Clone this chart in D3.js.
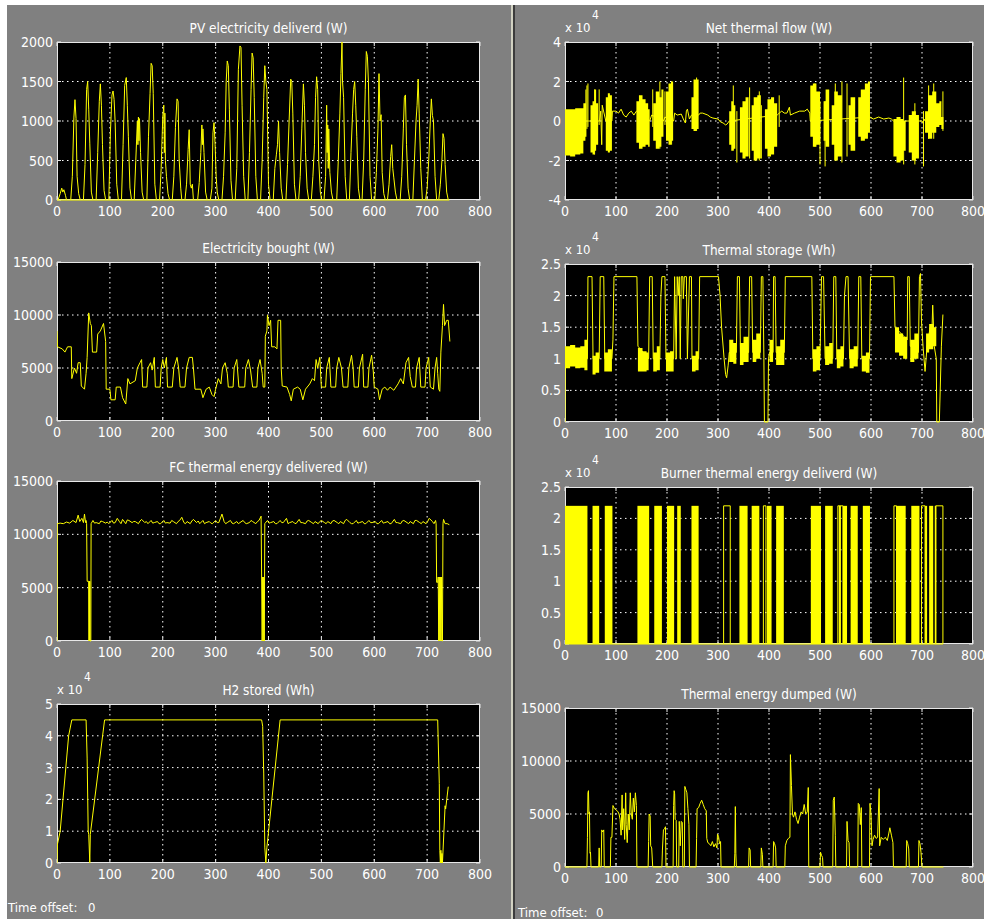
<!DOCTYPE html>
<html><head><meta charset="utf-8">
<script src="https://cdn.jsdelivr.net/npm/d3@7"></script>
<style>
body{margin:0;background:#fff}
text{font-family:'Liberation Sans Narrow','DejaVu Sans Condensed','Arial Narrow',sans-serif;fill:#fff}
</style></head><body><svg id="chart" width="984" height="919"></svg>
<script>
// ---- data (time in hours) ----
var xTicks = [0,100,200,300,400,500,600,700,800];

// PV electricity deliverd (W), one small list per day
var pvDays = [
  [[2,0],[6,80],[9,150],[11,100],[13,130],[16,60],[18,0]],
  [[26,0],[29,300],[32,1050],[34,1270],[36,1030],[38,300],[41,80],[44,0]],
  [[50,0],[53,450],[56,1400],[58,1500],[60,1150],[62,720],[65,100],[68,0]],
  [[74,0],[77,600],[80,1250],[82,1470],[84,1200],[86,700],[89,120],[92,0]],
  [[98,0],[101,850],[104,1330],[106,1380],[108,1270],[110,980],[113,200],[116,0]],
  [[122,0],[125,700],[128,1450],[131,1550],[133,1200],[135,800],[138,150],[141,0]],
  [[146,0],[149,500],[152,1000],[153,700],[154,1050],[155,750],[156,1030],[158,600],[161,100],[164,0]],
  [[170,0],[173,800],[176,1350],[178,1730],[180,1700],[182,1350],[185,200],[188,0]],
  [[194,0],[197,400],[200,1050],[202,1200],[203,600],[204,1100],[205,500],[207,300],[210,80],[213,0]],
  [[218,0],[221,300],[224,920],[227,1280],[229,1250],[231,520],[234,150],[236,0]],
  [[242,0],[245,200],[248,640],[250,890],[252,200],[254,150],[256,200],[258,0]],
  [[266,0],[269,220],[272,600],[274,950],[275,700],[276,900],[278,600],[281,100],[284,0]],
  [[290,0],[293,150],[295,850],[297,980],[299,700],[301,300],[303,100],[306,0]],
  [[312,0],[315,300],[318,850],[320,1500],[322,1760],[324,1700],[326,1150],[329,250],[332,0]],
  [[337,0],[340,400],[343,1650],[346,1950],[348,1930],[350,1200],[353,300],[356,0]],
  [[361,0],[364,600],[367,1400],[369,1860],[371,1800],[373,1300],[376,300],[379,0]],
  [[385,0],[388,500],[391,1300],[393,1700],[395,1500],[397,1400],[400,200],[403,0]],
  [[409,0],[412,400],[415,580],[417,700],[419,1000],[421,600],[424,150],[427,0]],
  [[433,0],[436,450],[439,1000],[442,1530],[444,1500],[446,1100],[449,200],[452,0]],
  [[457,0],[460,300],[463,900],[466,1470],[468,1200],[470,600],[473,150],[476,0]],
  [[481,0],[484,300],[487,700],[489,1300],[491,1560],[493,1400],[495,500],[498,100],[501,0]],
  [[505,0],[508,300],[510,1200],[511,600],[512,950],[513,400],[514,900],[516,350],[519,100],[522,0]],
  [[529,0],[532,500],[535,1100],[537,1600],[539,2000],[540,1500],[542,1300],[545,300],[548,0]],
  [[553,0],[556,600],[559,1100],[561,1400],[563,1500],[565,1200],[567,800],[570,150],[573,0]],
  [[577,0],[580,500],[583,1400],[585,1880],[587,1820],[589,1500],[592,300],[595,0]],
  [[601,0],[604,350],[607,900],[609,1600],[611,1000],[613,1080],[615,350],[618,80],[621,0]],
  [[625,0],[628,200],[631,550],[633,700],[635,400],[637,280],[640,100],[643,0]],
  [[649,0],[652,300],[655,900],[657,1300],[659,1330],[661,700],[664,150],[667,0]],
  [[673,0],[676,500],[679,1000],[681,1200],[683,1530],[685,1100],[688,400],[691,0]],
  [[697,0],[700,150],[703,500],[706,1000],[708,1280],[710,1070],[712,1000],[715,300],[718,0]],
  [[722,0],[725,200],[728,500],[730,840],[732,780],[734,450],[737,100],[740,0]]
];
var pvTicks = [0,500,1000,1500,2000];

// Electricity bought (W)
var elecBought = [[0,8500],[1,7000],[10,6800],[15,6500],[20,7000],[27,7000],[28,4000],[33,5000],[37,4500],[40,5500],
  [44,5500],[46,3300],[52,3000],[55,4500],[57,6000],[60,10200],[63,9200],[65,9000],[67,6500],[75,6500],[77,8200],
  [82,8500],[88,9200],[92,7500],[93,3000],[100,3000],[102,2000],[110,2000],[112,3200],[120,3200],[124,2200],
  [130,1600],[134,4000],[138,3500],[148,3800],[152,5000],[157,5500],[160,5800],[162,3200],[170,3200],[172,5000],
  [177,5500],[180,4800],[184,6000],[186,3200],[195,3200],[197,5000],[200,5800],[203,5000],[207,6000],[209,3200],
  [218,3200],[221,5000],[227,6000],[230,5000],[233,3200],[242,3200],[245,5000],[250,6000],[256,6000],[258,5000],
  [261,3000],[272,3000],[276,2200],[282,3000],[288,3200],[293,2500],[297,2300],[300,3000],[305,4000],[310,3500],
  [313,5000],[318,5500],[322,4500],[324,3200],[333,3200],[335,5000],[340,5800],[344,3200],[355,3200],[357,5000],
  [362,5800],[366,4800],[370,3200],[378,3200],[380,5000],[384,5800],[388,4500],[390,3200],[393,3200],[394,8000],
  [397,8500],[398,10000],[401,9000],[404,9500],[406,7000],[412,7000],[416,6800],[418,9500],[423,9500],[424,5000],
  [426,3300],[435,3200],[440,2500],[443,1900],[447,3000],[455,3200],[460,3000],[465,2000],[470,3000],[478,3500],
  [483,4000],[487,3800],[490,5800],[493,5000],[497,6000],[500,3200],[508,3200],[510,5000],[515,6000],[518,3200],
  [527,3200],[529,5000],[533,6000],[538,5000],[541,3200],[550,3200],[552,5000],[557,6200],[560,5000],[562,3200],
  [570,3200],[572,5000],[578,6300],[580,3200],[588,3200],[590,5000],[595,6200],[598,4800],[600,3200],[607,3000],
  [610,2000],[615,3000],[620,3200],[625,2900],[630,3200],[637,2900],[645,3500],[650,4000],[655,3500],[660,5500],
  [665,6000],[668,4200],[672,3200],[678,3200],[680,5000],[685,6000],[688,3200],[696,3200],[698,5000],[703,6000],
  [706,3200],[712,3000],[715,5000],[718,6000],[720,4500],[722,3000],[724,2800],[726,6500],[729,9000],[731,11000],
  [733,9000],[737,9500],[740,9500],[743,7500]];
var wTicks = [0,5000,10000,15000];

// FC thermal energy delivered (W)
var fcThermal = [[0,0],[0.5,11000],[6,11050],[12,11000],[18,11150],[24,11050],[30,11300],[36,11100],[40,11800],
  [43,11200],[47,11500],[50,11100],[52,11900],[54,11100],[55,11300],[56,11000],[57,5600],[60,5600],[60.5,0],
  [61,5600],[61.5,0],[62,5600],[62.5,0],[64,0],[64.5,11000],[68,11300],[71,11050],[74,11100],[80,11000],[83,11250],
  [86,11200],[92,11050],[95,11150],[98,11000],[104,11300],[107,11050],[110,11100],[114,11500],[118,11200],
  [121,11000],[124,11400],[130,11000],[133,11350],[136,11300],[142,11100],[145,11200],[148,11200],[154,11000],
  [157,11250],[160,11400],[166,11100],[169,11200],[172,11000],[178,11300],[181,11050],[184,11100],[190,11200],
  [193,11000],[196,11000],[202,11300],[205,11050],[208,11100],[214,11050],[217,11300],[220,11200],[226,11000],
  [229,11200],[232,11300],[236,11600],[240,11100],[243,11000],[246,11200],[252,11000],[255,11250],[258,11400],
  [264,11100],[267,11250],[270,11000],[276,11300],[279,11000],[282,11100],[288,11200],[291,11050],[294,11000],
  [300,11300],[303,11100],[306,11100],[312,11900],[316,11200],[319,11000],[322,11100],[328,11300],[331,11050],
  [334,11000],[340,11200],[343,11000],[346,11100],[352,11300],[355,11100],[358,11000],[364,11100],[367,11300],
  [370,11200],[376,11000],[379,11200],[382,11300],[386,11700],[387,6000],[388,0],[389,6000],[390,0],
  [391,6000],[392,0],[393,11000],[398,11300],[401,11050],[404,11100],[410,11200],[413,11000],[416,11000],
  [422,11300],[425,11100],[428,11100],[434,11500],[437,11000],[440,11100],[446,11200],[449,11050],[452,11000],
  [458,11400],[461,11100],[464,11100],[470,11000],[473,11250],[476,11300],[482,11100],[485,11000],[488,11200],
  [494,11000],[497,11200],[500,11300],[506,11100],[509,11000],[512,11200],[518,11000],[521,11250],[524,11300],
  [530,11100],[533,11000],[536,11200],[542,11000],[545,11300],[548,11400],[554,11100],[557,11000],[560,11000],
  [566,11300],[569,11050],[572,11100],[578,11200],[581,11000],[584,11000],[590,11300],[593,11100],[596,11100],
  [602,11200],[605,11000],[608,11000],[614,11300],[617,11050],[620,11100],[626,11200],[629,11000],[632,11000],
  [638,11400],[641,11100],[644,11100],[650,11000],[653,11250],[656,11300],[662,11100],[665,11000],[668,11200],
  [674,11000],[677,11300],[680,11300],[686,11100],[689,11000],[692,11200],[698,11000],[701,11200],
  [704,11500],[710,11200],[713,11000],[716,11300],[717,11000],[718,5500],[720,5500],[721,6000],[722,0],[723,6000],[724,0],
  [725,6000],[726,0],[727,6000],[728,0],[729,0],[730,11000],[731,11400],[734,11000],[738,11000],[742,10900]];

// H2 stored (Wh x 10^4)
var h2Stored = [[0,0],[1,0.6],[6,1.0],[22,4.0],[28,4.5],[55,4.5],[57,3.3],[59,1.0],[60,0.9],[62,0],[63,0.9],
  [90,4.5],[387,4.5],[389,4.3],[391,2.8],[393,0.5],[395,0],[397,0.5],[422,4.5],[720,4.5],[723,2.5],[724,0.4],
  [725,0],[726,0.4],[727,0],[728,0.3],[729,0],[734,1.8],[735,1.7],[740,2.4]];
var h2Ticks = [0,1,2,3,4,5];

// Net thermal flow (W x 10^4): slow trace, dense bands as [t,lo,hi] samples, spikes [t,lo,hi]
var netLine = [[0,0],[42,0],[46,0],[50,0],[65,0],[68,0],[70,0.5],[72,-1.2],[73,0.8],[80,0],[92,0],[93,0.5],
  [100,0.5],[105,0.4],[110,0.6],[115,0.3],[120,0.2],[125,0.4],[130,0.5],[135,0.3],[140,0.5],[166,0],[170,0.3],
  [193,0],[196,0.2],[213,0],[215,0.4],[220,0.3],[228,0.35],[232,0.1],[236,-0.1],[238,0.5],[240,0.6],[244,0.1],
  [248,0.3],[262,0.3],[265,0.4],[270,0.4],[280,0.3],[285,0.2],[290,0.15],[300,0.1],[305,-0.05],[310,-0.1],
  [315,-0.2],[318,-0.15],[322,0],[416,0.3],[420,0.4],[425,0.5],[430,0.4],[435,0.4],[440,0.7],[442,0.3],
  [450,0.4],[460,0.5],[470,0.5],[475,0.6],[480,0.4],[481,0],[598,0.2],[605,0.1],[615,0.2],[625,0.1],[635,0.15],
  [640,0.1],[644,0],[700,0],[702,-0.1],[704,0.1],[706,0],[742,-0.1]];
var netBands = [
  [[0,-1.75,0.6],[10,-1.8,0.6],[20,-1.7,0.65],[30,-1.65,0.65],[36,-1.0,0.9],[40,-0.8,1.6],[42,-0.8,1.6]],
  [[50,-1.6,0.8],[54,-1.7,1.0],[58,-1.5,1.6],[61,-1.2,0.9],[65,-1.2,0.9]],
  [[80,-1.5,1.2],[84,-1.6,1.4],[88,-1.5,1.3],[92,-1.5,1.3]],
  [[140,-1.1,1.0],[145,-1.4,1.3],[152,-1.3,1.1],[158,-1.2,0.9],[163,-1.3,0.6],[166,-1.3,0.6]],
  [[173,-1.0,0.9],[178,-1.4,1.5],[185,-1.3,1.2],[189,-0.8,1.6],[193,-0.8,1.6]],
  [[198,-1.0,1.5],[203,-1.2,1.9],[208,-1.0,2.0],[212,-1.0,2.0]],
  [[248,-0.4,1.2],[252,-0.5,2.1],[258,-0.4,2.1],[262,-0.4,2.1]],
  [[322,-1.2,0.5],[326,-1.5,1.0],[330,-1.4,0.8],[334,-1.4,0.8]],
  [[343,-1.6,0.7],[348,-1.9,1.0],[354,-1.8,1.2],[360,-1.8,1.2]],
  [[366,-1.5,0.8],[370,-2.0,1.2],[377,-1.9,1.3],[384,-1.9,1.3]],
  [[392,-1.4,0.6],[397,-1.8,1.1],[404,-1.7,1.2],[410,-1.3,0.9],[416,-1.3,0.9]],
  [[481,-0.8,1.8],[486,-1.3,1.9],[493,-1.2,1.5],[500,-1.2,1.5]],
  [[507,-1.0,1.0],[511,-1.3,1.6],[518,-1.3,1.6]],
  [[523,-1.2,0.8],[528,-2.0,1.5],[535,-1.8,1.3],[543,-1.8,1.3]],
  [[556,-1.2,0.8],[560,-1.5,1.2],[569,-1.5,1.2]],
  [[575,-0.8,1.2],[580,-1.0,1.6],[588,-0.9,1.9],[594,-0.6,2.0],[598,-0.6,2.0]],
  [[644,-1.8,0.1],[650,-2.1,0.2],[658,-2.0,0.1],[663,-1.5,0.0],[668,-1.5,0.0]],
  [[674,-1.6,0.3],[680,-2.0,0.5],[688,-1.9,0.3],[694,-1.9,0.3]],
  [[706,-0.6,0.5],[712,-0.9,1.3],[720,-0.6,1.5],[728,-0.3,0.9],[734,-0.2,1.0],[738,-0.4,0.2],[742,-0.4,0.2]]
];
var netSpikes = [[43,-0.4,1.8],[45,-0.3,1.9],[58,-1.7,1.6],[67,-0.2,1.6],[172,-0.3,1.6],[186,-1.4,2.0],
  [196,-0.2,1.5],[209,-1.2,2.0],[258,-0.5,2.2],[330,-1.5,1.8],[337,-2.1,0.5],[362,-1.9,1.7],[381,-2.0,1.5],
  [385,-1.9,0.8],[420,-0.3,1.3],[490,-1.3,1.9],[500,-2.2,1.0],[510,-2.3,1.0],[530,-2.0,1.9],[543,-2.1,2.0],
  [553,-1.8,1.9],[664,-2.2,2.2],[686,-2.2,0.9],[703,-2.3,0.5],[713,-0.9,1.8],[723,-0.9,1.9],[741,-0.5,1.5]];
var netTicks = [-4,-2,0,2,4];

// Thermal storage (Wh x 10^4)
var storeLine = [[0,0],[0.5,1.0],[44,1.0],[45,2.3],[53,2.3],[55,1.0],[67,1.0],[69,2.3],[76,2.3],[78,1.0],
  [92,1.0],[94,1.3],[96,2.3],[141,2.3],[143,1.2],[164,1.0],[166,2.3],[171,2.3],[173,1.0],[186,1.0],[188,2.0],
  [190,2.3],[196,2.3],[198,1.0],[213,1.0],[215,2.3],[218,1.0],[220,2.3],[222,2.0],[224,2.3],[226,1.0],
  [228,2.3],[231,2.3],[232,1.95],[234,2.3],[238,2.3],[240,1.0],[244,2.3],[248,2.3],[249,1.0],[262,1.0],
  [264,2.3],[301,2.3],[304,2.0],[307,1.5],[312,1.0],[315,0.75],[317,0.7],[320,0.9],[322,1.1],[336,1.1],
  [338,2.3],[342,2.3],[344,1.1],[360,1.1],[362,2.3],[366,2.3],[368,1.1],[383,1.1],[385,2.3],[388,2.3],
  [390,1.0],[391,0],[398,0],[399,1.0],[401,1.1],[408,1.1],[409,2.3],[412,2.3],[414,1.1],[430,1.1],[432,2.3],
  [484,2.3],[486,1.0],[500,1.0],[503,2.3],[507,2.3],[510,1.0],[525,1.0],[527,2.3],[531,2.3],[533,1.0],
  [546,1.0],[548,2.0],[551,2.3],[555,2.3],[558,1.0],[574,1.0],[576,2.3],[580,2.3],[582,1.0],[597,1.0],
  [599,2.3],[645,2.3],[647,1.5],[671,1.3],[672,2.3],[675,2.3],[677,1.2],[693,1.1],[695,2.3],[697,2.35],
  [699,1.6],[702,1.2],[706,0.8],[710,1.2],[716,1.5],[719,1.3],[721,1.85],[724,1.2],[728,1.0],[729,0],
  [734,0],[735,0.3],[738,1.2],[741,1.7]];
var storeBands = [
  [[0,0.85,1.2],[10,0.88,1.22],[20,0.85,1.18],[30,0.86,1.2],[38,0.82,1.3],[44,0.82,1.3]],
  [[54,0.75,1.05],[60,0.78,1.1],[67,0.78,1.1]],
  [[77,0.8,1.1],[84,0.8,1.15],[92,0.8,1.15]],
  [[143,0.8,1.17],[152,0.8,1.12],[160,0.82,1.1],[164,0.82,1.1]],
  [[173,0.8,1.1],[180,0.82,1.2],[186,0.82,1.2]],
  [[198,0.8,1.1],[206,0.8,1.12],[213,0.8,1.12]],
  [[249,0.8,1.05],[256,0.82,1.12],[262,0.82,1.12]],
  [[322,0.95,1.3],[330,0.92,1.25],[336,0.92,1.25]],
  [[343,0.9,1.25],[350,0.95,1.35],[360,0.95,1.35]],
  [[368,0.95,1.3],[375,1.0,1.4],[383,1.0,1.4]],
  [[401,0.95,1.3],[408,0.95,1.3]],
  [[414,0.9,1.2],[422,0.9,1.3],[430,0.9,1.3]],
  [[486,0.8,1.15],[493,0.82,1.2],[500,0.82,1.2]],
  [[510,0.9,1.2],[518,0.92,1.25],[525,0.92,1.25]],
  [[533,0.85,1.15],[540,0.88,1.2],[546,0.88,1.2]],
  [[558,0.85,1.15],[566,0.88,1.2],[574,0.88,1.2]],
  [[582,0.8,1.05],[590,0.78,1.1],[597,0.78,1.1]],
  [[647,1.1,1.5],[655,1.05,1.4],[663,1.0,1.35],[671,1.0,1.35]],
  [[677,0.95,1.3],[685,1.0,1.4],[693,1.0,1.4]],
  [[708,1.1,1.4],[714,1.15,1.55],[722,1.2,1.5],[728,1.2,1.5]]
];
var halfTicks = [0,0.5,1,1.5,2,2.5];

// Burner thermal energy deliverd (W x 10^4): on-level, dense switching blocks and single switches
var burnerOn = 2.2;
var burnerFilled = [[0,44],[54,67],[78,93],[142,165],[175,190],[200,214],[220,227],[248,262],[342,358],
  [366,381],[396,405],[414,429],[482,502],[510,525],[537,541],[545,553],[560,574],[584,598],[650,668],
  [679,695],[706,710],[714,722],[725,728]];
var burnerOutline = [[311,324],[389,394],[535,545],[645,650],[699,706],[727,741]];
var burnerSpan = [[0,0],[741,0]];

// Thermal energy dumped (W)
var dumped = [[0,0],[43,0],[44,2800],[45,7000],[46,7200],[47,5000],[48,5200],[49,1300],[50,1400],[51,0],
  [66,0],[67,1800],[68,0],[71,0],[72,3500],[74,3300],[76,3500],[77,0],[89,0],[90,2800],[92,2800],[94,5800],
  [97,5500],[100,5400],[104,5200],[106,5000],[108,4500],[110,3000],[112,6800],[113,3500],[115,5500],[117,2600],
  [119,7000],[120,4000],[122,2300],[124,5000],[126,3500],[128,7000],[130,5000],[132,4500],[134,6500],[136,5200],
  [138,7000],[140,5800],[141,0],[163,0],[164,2400],[165,5000],[167,4800],[168,2000],[170,1800],[172,0],[190,0],
  [191,1600],[193,3500],[195,3600],[197,3800],[198,0],[212,0],[213,5800],[214,7200],[215,6900],[216,4500],
  [218,4400],[219,0],[223,0],[224,4300],[226,2000],[228,4300],[230,4200],[231,0],[234,0],[235,7600],[237,7300],
  [239,7000],[241,5500],[243,4000],[244,0],[257,0],[258,2700],[259,5500],[262,5600],[265,6000],[268,6300],
  [271,5900],[274,5500],[277,5300],[278,2700],[280,2300],[283,2200],[286,2000],[289,2400],[292,1900],[295,2200],
  [298,1800],[299,3100],[301,2900],[303,2200],[305,2400],[306,0],[332,0],[333,1300],[334,5700],[335,1300],
  [336,0],[360,0],[361,1800],[363,1600],[364,0],[384,0],[385,1800],[387,1200],[388,0],[408,0],[409,2400],
  [411,2200],[413,1800],[414,0],[431,0],[432,2000],[435,2500],[438,2700],[441,2800],[442,10600],[444,7700],
  [446,5000],[448,4700],[451,5200],[454,4500],[457,4100],[460,4700],[463,5200],[466,5000],[469,5900],[472,5000],
  [475,5200],[477,7500],[478,0],[500,0],[501,1400],[503,1100],[505,900],[506,0],[525,0],[526,6300],[528,6600],
  [530,3000],[531,0],[552,0],[553,4300],[555,2500],[557,2300],[558,0],[574,0],[575,6000],[577,5900],[579,4000],
  [581,5600],[582,0],[597,0],[598,6000],[600,5000],[602,2000],[604,2600],[607,3000],[610,2700],[613,2800],
  [616,7400],[617,2000],[620,2800],[624,2600],[628,2800],[632,2500],[635,3200],[637,3700],[640,3000],[643,2300],
  [644,0],[669,0],[670,2500],[672,2200],[674,1700],[675,0],[693,0],[694,2500],[696,2200],[698,1400],[700,0],
  [742,0]];

// ---- drawing ----
var W = 984, H = 919;
var yellow = "#ffff00";
var svg = d3.select("#chart");

svg.append("rect").attr("width", W).attr("height", H).attr("fill", "#fff");
svg.append("rect").attr("x", 7).attr("y", 5).attr("width", 504).attr("height", H - 5).attr("fill", "#808080");
svg.append("rect").attr("x", 511).attr("y", 5).attr("width", 2).attr("height", H - 5).attr("fill", "#d2d2c2");
svg.append("rect").attr("x", 513).attr("y", 5).attr("width", 2).attr("height", H - 5).attr("fill", "#3c3c3c");
svg.append("rect").attr("x", 515).attr("y", 5).attr("width", W - 515).attr("height", H - 5).attr("fill", "#808080");

var clipCount = 0;

function panel(o) {
  var x = d3.scaleLinear().domain([0, 800]).range([o.x0, o.x1]);
  var y = d3.scaleLinear().domain([o.ticks[0], o.ticks[o.ticks.length - 1]]).range([o.y1, o.y0]);
  var g = svg.append("g");

  g.append("rect").attr("x", o.x0).attr("y", o.y0)
    .attr("width", o.x1 - o.x0).attr("height", o.y1 - o.y0).attr("fill", "#000");

  // dotted grid
  g.selectAll(".gx").data(xTicks.slice(1, -1)).enter().append("line")
    .attr("x1", d => x(d)).attr("x2", d => x(d)).attr("y1", o.y0).attr("y2", o.y1)
    .attr("stroke", "#fff").attr("stroke-dasharray", "1.5,3.5");
  g.selectAll(".gy").data(o.ticks.slice(1, -1)).enter().append("line")
    .attr("y1", d => y(d)).attr("y2", d => y(d)).attr("x1", o.x0).attr("x2", o.x1)
    .attr("stroke", "#fff").attr("stroke-dasharray", "1.5,3.5");

  // frame + inner ticks
  g.append("rect").attr("x", o.x0 + 0.5).attr("y", o.y0 + 0.5)
    .attr("width", o.x1 - o.x0 - 1).attr("height", o.y1 - o.y0 - 1)
    .attr("fill", "none").attr("stroke", "#e8e8e8");
  xTicks.forEach(function (t) {
    g.append("line").attr("x1", x(t)).attr("x2", x(t)).attr("y1", o.y1).attr("y2", o.y1 - 4).attr("stroke", "#e8e8e8");
    g.append("line").attr("x1", x(t)).attr("x2", x(t)).attr("y1", o.y0).attr("y2", o.y0 + 4).attr("stroke", "#e8e8e8");
  });
  o.ticks.forEach(function (t) {
    g.append("line").attr("y1", y(t)).attr("y2", y(t)).attr("x1", o.x0).attr("x2", o.x0 + 4).attr("stroke", "#e8e8e8");
    g.append("line").attr("y1", y(t)).attr("y2", y(t)).attr("x1", o.x1).attr("x2", o.x1 - 4).attr("stroke", "#e8e8e8");
  });

  // labels
  g.selectAll(".xl").data(xTicks).enter().append("text")
    .attr("x", d => x(d)).attr("y", o.y1 + 16).attr("text-anchor", "middle")
    .style("font-size", "14px").text(d => d);
  g.selectAll(".yl").data(o.ticks).enter().append("text")
    .attr("x", o.x0 - 4).attr("y", d => y(d)).attr("dy", "0.36em").attr("text-anchor", "end")
    .style("font-size", "14px").text(d => d);
  g.append("text").attr("x", (o.x0 + o.x1) / 2).attr("y", o.y0 - 9).attr("text-anchor", "middle")
    .style("font-size", "13.5px").text(o.title);
  if (o.exp) {
    g.append("text").attr("x", o.x0).attr("y", o.y0 - 10).style("font-size", "13px").text("x 10");
    g.append("text").attr("x", o.x0 + 27).attr("y", o.y0 - 23).style("font-size", "12px").text("4");
  }

  // data layer
  var id = "clip" + (clipCount++);
  g.append("clipPath").attr("id", id).append("rect")
    .attr("x", o.x0).attr("y", o.y0 - 1).attr("width", o.x1 - o.x0).attr("height", o.y1 - o.y0 + 2);
  var plot = g.append("g").attr("clip-path", "url(#" + id + ")");
  o.draw(plot, x, y);
}

function drawLine(plot, x, y, pts) {
  plot.append("path").datum(pts)
    .attr("d", d3.line().x(d => x(d[0])).y(d => y(d[1])))
    .attr("fill", "none").attr("stroke", yellow).attr("stroke-width", 1);
}
function drawRects(plot, x, y, rects) {
  plot.selectAll(null).data(rects).enter().append("rect")
    .attr("x", d => x(d[0])).attr("width", d => x(d[1]) - x(d[0]))
    .attr("y", d => y(d[3])).attr("height", d => y(d[2]) - y(d[3]))
    .attr("fill", yellow);
}
function drawBands(plot, x, y, bands) {
  var area = d3.area().curve(d3.curveStepAfter)
    .x(d => x(d[0])).y0(d => y(d[1])).y1(d => y(d[2]));
  plot.selectAll(null).data(bands).enter().append("path")
    .attr("d", area).attr("fill", yellow);
}
function drawSpikes(plot, x, y, spikes) {
  plot.selectAll(null).data(spikes).enter().append("line")
    .attr("x1", d => x(d[0])).attr("x2", d => x(d[0]))
    .attr("y1", d => y(d[1])).attr("y2", d => y(d[2]))
    .attr("stroke", yellow).attr("stroke-width", 1);
}

var LX0 = 57, LX1 = 480, RX0 = 565, RX1 = 973;

panel({ x0: LX0, x1: LX1, y0: 42, y1: 200, ticks: pvTicks, title: "PV electricity deliverd (W)",
  draw: function (p, x, y) {
    drawLine(p, x, y, [[0, 0], [742, 0]]);
    pvDays.forEach(function (day) { drawLine(p, x, y, day); });
  } });
panel({ x0: LX0, x1: LX1, y0: 262, y1: 421, ticks: wTicks, title: "Electricity bought (W)",
  draw: function (p, x, y) { drawLine(p, x, y, elecBought); } });
panel({ x0: LX0, x1: LX1, y0: 481, y1: 641, ticks: wTicks, title: "FC thermal energy delivered (W)",
  draw: function (p, x, y) { drawLine(p, x, y, fcThermal); } });
panel({ x0: LX0, x1: LX1, y0: 704, y1: 863, ticks: h2Ticks, title: "H2 stored (Wh)", exp: true,
  draw: function (p, x, y) { drawLine(p, x, y, h2Stored); } });

panel({ x0: RX0, x1: RX1, y0: 42, y1: 200, ticks: netTicks, title: "Net thermal flow (W)", exp: true,
  draw: function (p, x, y) {
    drawLine(p, x, y, netLine);
    drawBands(p, x, y, netBands);
    drawSpikes(p, x, y, netSpikes);
  } });
panel({ x0: RX0, x1: RX1, y0: 264, y1: 422, ticks: halfTicks, title: "Thermal storage (Wh)", exp: true,
  draw: function (p, x, y) {
    drawLine(p, x, y, storeLine);
    drawBands(p, x, y, storeBands);
  } });
panel({ x0: RX0, x1: RX1, y0: 487, y1: 644, ticks: halfTicks, title: "Burner thermal energy deliverd (W)", exp: true,
  draw: function (p, x, y) {
    drawLine(p, x, y, burnerSpan);
    drawRects(p, x, y, burnerFilled.map(b => [b[0], b[1], 0, burnerOn]));
    burnerOutline.forEach(function (b) {
      drawLine(p, x, y, [[b[0], 0], [b[0], burnerOn], [b[1], burnerOn], [b[1], 0]]);
    });
  } });
panel({ x0: RX0, x1: RX1, y0: 708, y1: 867, ticks: wTicks, title: "Thermal energy dumped (W)",
  draw: function (p, x, y) { drawLine(p, x, y, dumped); } });

svg.append("text").attr("x", 8).attr("y", 912).style("font-size", "13px").text("Time offset:");
svg.append("text").attr("x", 88).attr("y", 912).style("font-size", "13px").text("0");
svg.append("text").attr("x", 518).attr("y", 917).style("font-size", "13px").text("Time offset:");
svg.append("text").attr("x", 596).attr("y", 917).style("font-size", "13px").text("0");
</script></body></html>
